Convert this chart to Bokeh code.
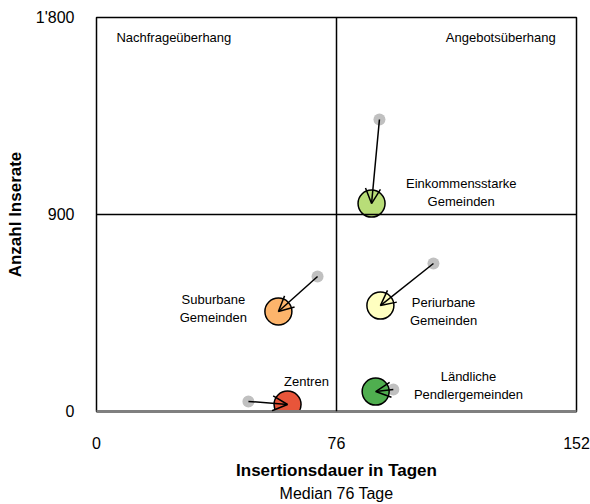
from bokeh.plotting import figure
from bokeh.models import Range1d, FixedTicker, Arrow, OpenHead, ColumnDataSource, Label, Span, Title
from bokeh.core.properties import value
from bokeh.embed import file_html
from bokeh.resources import INLINE

FONT = "Liberation Sans"

# Data
names = ["Einkommensstarke\nGemeinden", "Periurbane\nGemeinden", "Suburbane\nGemeinden", "Zentren", "Ländliche\nPendlergemeinden"]
prev_days = [89.6, 106.7, 70.0, 48.1, 94.0]
prev_count = [1334, 676, 617, 46, 101]
curr_days = [87.1, 89.9, 57.6, 60.5, 88.4]
curr_count = [950, 484, 457, 32, 91]
colors = ["#b8dd78", "#ffffc0", "#fdb46b", "#e8553a", "#4fae4f"]
label_x = [115.5, 109.9, 37.0, 66.5, 117.8]
label_y = [1000, 455, 471, 137, 121]
median_days = 76
median_count = 900
x_ticks = [0, 76, 152]
y_ticks = [0, 900, 1800]
y_tick_labels = {0: "0", 900: "900", 1800: "1'800"}

p = figure(width=590, height=504, output_backend="svg", toolbar_location=None,
           x_range=Range1d(0, 152), y_range=Range1d(0, 1800),
           min_border_left=96, min_border_right=14, min_border_top=17, min_border_bottom=93)
p.xgrid.visible = False
p.ygrid.visible = False
p.outline_line_color = "black"
p.outline_line_width = 1.5

# axes
p.xaxis.ticker = FixedTicker(ticks=x_ticks)
p.yaxis.ticker = FixedTicker(ticks=y_ticks)
p.yaxis.major_label_overrides = y_tick_labels
for ax in (p.xaxis[0], p.yaxis[0]):
    ax.major_tick_line_color = None
    ax.minor_tick_line_color = None
    ax.major_label_text_font = FONT
    ax.major_label_text_font_size = "16px"
    ax.major_label_text_color = "black"
    ax.axis_label_text_font = FONT
    ax.axis_label_text_font_size = "17px"
    ax.axis_label_text_font_style = "bold"
    ax.axis_label_text_color = "black"
p.yaxis.axis_line_color = None
p.xaxis.axis_line_color = "#808080"
p.xaxis.axis_line_width = 3
p.xaxis.major_label_standoff = 19
p.yaxis.major_label_standoff = 16
p.xaxis.axis_label = "Insertionsdauer in Tagen"
p.yaxis.axis_label = "Anzahl Inserate"
p.xaxis.axis_label_standoff = 9
p.yaxis.axis_label_standoff = 8

p.add_layout(Title(text="Median 76 Tage", align="center", text_font=FONT, text_font_size="16px",
                   text_font_style="normal", text_color="black", standoff=0), "below")

# median lines
p.add_layout(Span(location=median_days, dimension="height", line_color="black", line_width=1.5))
p.add_layout(Span(location=median_count, dimension="width", line_color="black", line_width=1.5))

src = ColumnDataSource(dict(px=prev_days, py=prev_count, cx=curr_days, cy=curr_count,
                            c=colors, lx=label_x, ly=label_y, t=names))
p.scatter("px", "py", source=src, size=12, fill_color="#c0c0c0", line_color=None)
p.scatter("cx", "cy", source=src, size=27, fill_color="c", line_color="black", line_width=1.5)
p.add_layout(Arrow(end=OpenHead(size=15, line_color="black", line_width=1.5),
                   x_start="px", y_start="py", x_end="cx", y_end="cy", source=src,
                   line_color="black", line_width=1.5))
p.text("lx", "ly", text="t", source=src, text_font=value(FONT), text_font_size="13px",
       text_align="center", text_baseline="middle", text_color="black", text_line_height=1.2)

p.add_layout(Label(x=6.3, y=1709, text="Nachfrageüberhang", text_font=FONT, text_font_size="13px",
                   text_align="left", text_baseline="middle", text_color="black"))
p.add_layout(Label(x=145.4, y=1709, text="Angebotsüberhang", text_font=FONT, text_font_size="13px",
                   text_align="right", text_baseline="middle", text_color="black"))

open("out.html", "w").write(file_html(p, INLINE))
